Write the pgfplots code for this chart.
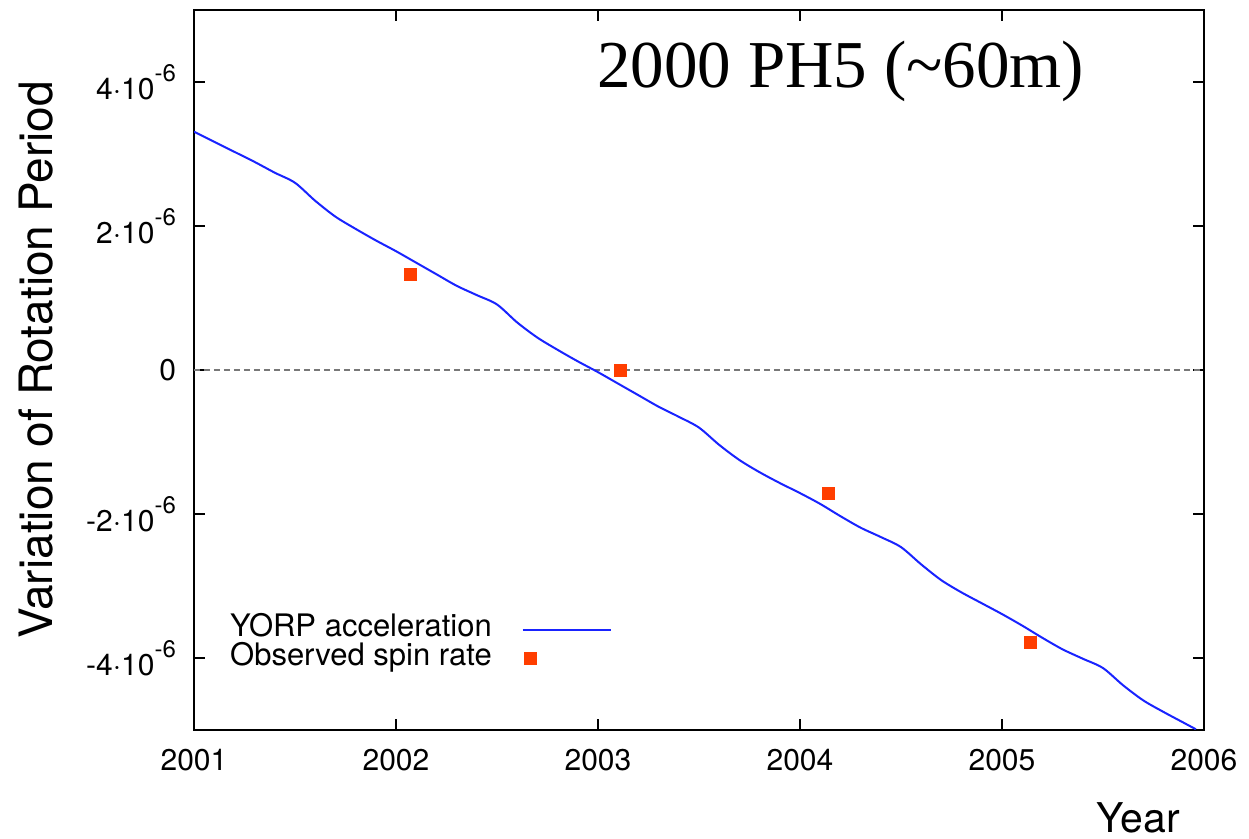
\documentclass[border=0pt]{standalone}
\usepackage{fontspec}
\setmainfont{TeX Gyre Heros}
\newfontfamily\titlefont{Liberation Serif}
\usepackage{pgfplots}
\pgfplotsset{compat=1.18}

\definecolor{yorpblue}{RGB}{25,35,255}
\definecolor{obsred}{RGB}{255,62,0}
\definecolor{zerogray}{RGB}{120,120,120}

% superscript exponent for the tick labels
\newcommand\expo[1]{\raisebox{0.6em}{\fontsize{12}{13}\selectfont #1}}

% legend samples: a long line, and a single mark at the left of the sample column
\pgfplotsset{
  long line legend/.style={legend image code/.code={\draw[##1] (0pt,0pt) -- (44pt,0pt);}},
  left mark legend/.style={legend image code/.code={\draw[mark repeat=2, mark phase=2, ##1]
    plot coordinates {(0pt,0pt) (4pt,0pt) (8pt,0pt)};}},
}

% period variation, in units of 1e-6
\pgfplotstableread{
t       dp
2001.0  3.31
2001.1  3.17
2001.2  3.03
2001.3  2.89
2001.4  2.74
2001.5  2.60
2001.6  2.35
2001.7  2.13
2001.8  1.96
2001.9  1.80
2002.0  1.65
2002.1  1.49
2002.2  1.33
2002.3  1.17
2002.4  1.04
2002.5  0.91
2002.6  0.66
2002.7  0.45
2002.8  0.28
2002.9  0.12
2003.0  -0.03
2003.1  -0.19
2003.2  -0.35
2003.3  -0.51
2003.4  -0.65
2003.5  -0.80
2003.6  -1.04
2003.7  -1.25
2003.8  -1.42
2003.9  -1.57
2004.0  -1.71
2004.1  -1.86
2004.2  -2.03
2004.3  -2.19
2004.4  -2.32
2004.5  -2.46
2004.6  -2.70
2004.7  -2.92
2004.8  -3.09
2004.9  -3.24
2005.0  -3.39
2005.1  -3.55
2005.2  -3.72
2005.3  -3.88
2005.4  -4.01
2005.5  -4.14
2005.6  -4.38
2005.7  -4.59
2005.8  -4.75
2005.9  -4.90
2005.96 -4.99
}\yorp

\pgfplotstableread{
t        dp
2002.07  1.33
2003.11  0.00
2004.14  -1.72
2005.14  -3.79
}\observed

\begin{document}
\begin{tikzpicture}
\begin{axis}[
  scale only axis,
  width=505pt, height=360pt,
  xmin=2001, xmax=2006, ymin=-5, ymax=5,
  xtick={2001,2002,2003,2004,2005,2006},
  xticklabels={2001,2002,2003,2004,2005,2006},
  ytick={-4,-2,0,2,4},
  yticklabels={-4·10\expo{-6},-2·10\expo{-6},0,2·10\expo{-6},4·10\expo{-6}},
  tick align=inside,
  major tick length=5.5pt,
  axis line style={line width=1pt},
  every tick/.style={black, line width=0.8pt},
  xticklabel style={font=\fontsize{15}{18}\selectfont, yshift=-6pt},
  yticklabel style={font=\fontsize{15}{18}\selectfont, xshift=-5.5pt},
  xlabel={Year},
  xlabel style={at={(rel axis cs:0.983,-0.143)}, anchor=base east,
    font=\fontsize{20.5}{24}\selectfont},
  ylabel={Variation of Rotation Period},
  ylabel style={at={(rel axis cs:-0.1406,0.514)}, anchor=base,
    font=\fontsize{23}{27}\selectfont},
  title={2000 PH5 (\textasciitilde60m)},
  title style={at={(rel axis cs:0.3925,0.875)}, anchor=base west,
    font=\titlefont\fontsize{33.5}{38}\selectfont},
  legend plot pos=right,
  legend cell align=right,
  legend style={draw=none, fill=none, at={(rel axis cs:0.414,0.16)},
    anchor=north east, inner sep=0pt, column sep=13pt,
    font=\fontsize{15.5}{18}\selectfont,
    nodes={inner xsep=2pt, inner ysep=1pt, text height=9.5pt, text depth=3pt}},
]
\addplot[zerogray, line width=0.8pt, dash pattern=on 3pt off 2pt, forget plot]
  coordinates {(2001,0) (2006,0)};
\addplot[yorpblue, line width=1pt, smooth, long line legend]
  table[x=t, y=dp] {\yorp};
\addlegendentry{YORP acceleration}
\addplot[only marks, mark=square*, mark size=3pt, obsred,
  mark options={draw=obsred, fill=obsred}, left mark legend]
  table[x=t, y=dp] {\observed};
\addlegendentry{Observed spin rate}
\coordinate (bbsw) at (rel axis cs:-0.1921,-0.1514);
\coordinate (bbne) at (rel axis cs:1.0446,1.0139);
\end{axis}
\pgfresetboundingbox
\path (bbsw) rectangle (bbne);
\end{tikzpicture}
\end{document}
